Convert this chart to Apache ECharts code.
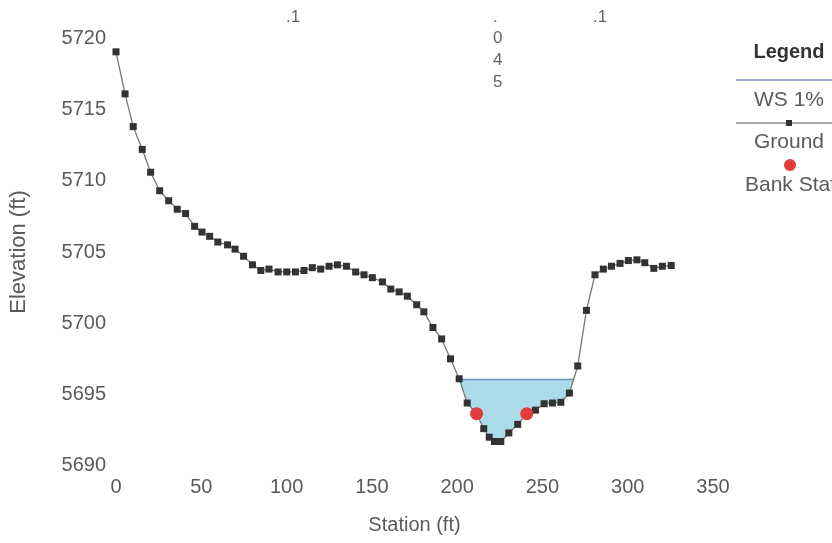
<!DOCTYPE html>
<html>
<head>
<meta charset="utf-8">
<script src="https://cdn.jsdelivr.net/npm/echarts@6/dist/echarts.min.js"></script>
<style>
html,body{margin:0;padding:0;background:#fff;}
#c{width:832px;height:543px;}
</style>
</head>
<body>
<div id="c"></div>
<script>
// ---- data ----
const groundStation = [0, 5.3, 10.1, 15.4, 20.3, 25.6, 30.9, 35.9, 40.8, 46.1, 50.4, 54.9, 59.7, 65.4, 69.8, 74.8, 80.0, 84.9, 89.7, 95.0, 100.1, 105.2, 110.2, 115.1, 120.0, 124.9, 129.8, 135.1, 140.5, 145.4, 150.3, 156.2, 161.1, 166.0, 170.8, 176.3, 180.5, 185.8, 190.9, 196.1, 201.2, 205.9, 211.4, 215.6, 218.8, 221.9, 225.6, 230.3, 235.5, 240.8, 245.9, 251.0, 255.9, 260.8, 265.8, 270.7, 275.8, 280.8, 285.7, 290.5, 295.5, 300.4, 305.4, 310.0, 315.3, 320.3, 325.5];
const groundElev = [5719.05, 5716.1, 5713.8, 5712.2, 5710.6, 5709.3, 5708.6, 5708.0, 5707.7, 5706.8, 5706.4, 5706.1, 5705.7, 5705.5, 5705.2, 5704.7, 5704.1, 5703.7, 5703.8, 5703.6, 5703.6, 5703.6, 5703.7, 5703.9, 5703.8, 5704.0, 5704.1, 5704.0, 5703.6, 5703.4, 5703.2, 5702.9, 5702.4, 5702.2, 5701.9, 5701.3, 5700.8, 5699.7, 5698.9, 5697.5, 5696.1, 5694.4, 5693.65, 5692.6, 5692.0, 5691.7, 5691.7, 5692.3, 5692.9, 5693.65, 5693.9, 5694.35, 5694.4, 5694.45, 5695.1, 5697.0, 5700.9, 5703.4, 5703.8, 5704.0, 5704.2, 5704.4, 5704.45, 5704.25, 5703.85, 5704.0, 5704.05];
const bankStation = [211.4, 240.8];
const bankElev = [5693.65, 5693.65];
const wsElev = 5696.05;
const wsName = 'WS 1%';
const xTicks = [0, 50, 100, 150, 200, 250, 300, 350];
const yTicks = [5690, 5695, 5700, 5705, 5710, 5715, 5720];
const nLabels = ['.1', '.045', '.1'];

// ---- derived ----
const ground = groundStation.map((s, i) => [s, groundElev[i]]);
// water polygon: portion of ground below WS in the channel, bounded by crossings
const minIdx = groundElev.indexOf(Math.min(...groundElev));
let li = minIdx; while (li > 0 && groundElev[li - 1] < wsElev) li--;
let ri = minIdx; while (ri < groundElev.length - 1 && groundElev[ri + 1] < wsElev) ri++;
function cross(a, b) {
  const t = (wsElev - groundElev[a]) / (groundElev[b] - groundElev[a]);
  return groundStation[a] + t * (groundStation[b] - groundStation[a]);
}
const xl = cross(li - 1, li), xr = cross(ri, ri + 1);
const water = [[xl, wsElev]].concat(ground.slice(li, ri + 1)).concat([[xr, wsElev]]);
const wsLine = [[xl, wsElev], [xr, wsElev]];

const txt = '#5a5a5a';
const font = 'Liberation Sans, Arial, sans-serif';

const chart = echarts.init(document.getElementById('c'), null, {renderer: 'canvas'});
chart.setOption({
  animation: false,
  backgroundColor: '#fff',
  grid: {left: 115, right: 119, top: 38.3, bottom: 77.3, containLabel: false},
  xAxis: {
    type: 'value', min: xTicks[0], max: xTicks[xTicks.length - 1], interval: 50,
    name: 'Station (ft)', nameLocation: 'middle', nameGap: 50,
    nameTextStyle: {color: txt, fontSize: 20, fontFamily: font},
    axisLine: {show: false}, axisTick: {show: false}, splitLine: {show: false},
    axisLabel: {color: txt, fontSize: 20, fontFamily: font, margin: 12, formatter: v => String(v)}
  },
  yAxis: {
    type: 'value', min: yTicks[0], max: yTicks[yTicks.length - 1], interval: 5,
    name: 'Elevation (ft)', nameLocation: 'middle', nameGap: 86,
    nameTextStyle: {color: txt, fontSize: 22, fontFamily: font},
    axisLine: {show: false}, axisTick: {show: false}, splitLine: {show: false},
    axisLabel: {color: txt, fontSize: 20, fontFamily: font, margin: 10, formatter: v => String(v)}
  },
  series: [
    {
      name: 'water', type: 'line', data: water, showSymbol: false, silent: true,
      lineStyle: {width: 0, opacity: 0},
      areaStyle: {origin: wsElev, color: '#acdbea', opacity: 1}, z: 1
    },
    {
      name: wsName, type: 'line', data: wsLine, showSymbol: false,
      lineStyle: {color: '#6f92bd', width: 1.5}, z: 2
    },
    {
      name: 'Ground', type: 'line', data: ground, symbol: 'rect', symbolSize: 7,
      lineStyle: {color: '#777', width: 1.3},
      itemStyle: {color: '#333'}, z: 3
    },
    {
      name: 'Bank Sta', type: 'scatter', data: bankStation.map((s, i) => [s, bankElev[i]]),
      symbol: 'circle', symbolSize: 13, itemStyle: {color: '#e33b3b', opacity: 1}, z: 4
    }
  ],
  graphic: [
    // Manning's n labels along the top
    {type: 'text', left: 286, top: 9, style: {text: nLabels[0], fill: '#666', font: '17px ' + font}},
    {type: 'text', left: 593, top: 9, style: {text: nLabels[2], fill: '#666', font: '17px ' + font}},
    {type: 'text', left: 493, top: 6, style: {text: nLabels[1].split('').join('\n'), fill: '#666', font: '17px ' + font, lineHeight: 21.7, align: 'center', x: 5}},
    // legend
    {type: 'text', x: 789, y: 52, style: {text: 'Legend', fill: '#333', font: 'bold 20px ' + font, align: 'center', verticalAlign: 'middle'}},
    {type: 'line', shape: {x1: 736, y1: 80, x2: 832, y2: 80}, style: {stroke: '#7a88b8', lineWidth: 1.5}},
    {type: 'text', x: 789, y: 100, style: {text: wsName, fill: txt, font: '21px ' + font, align: 'center', verticalAlign: 'middle'}},
    {type: 'line', shape: {x1: 736, y1: 123, x2: 832, y2: 123}, style: {stroke: '#555', lineWidth: 1.2}},
    {type: 'rect', shape: {x: 786, y: 120, width: 6, height: 6}, style: {fill: '#333'}},
    {type: 'text', x: 789, y: 142, style: {text: 'Ground', fill: txt, font: '21px ' + font, align: 'center', verticalAlign: 'middle'}},
    {type: 'circle', shape: {cx: 790, cy: 165, r: 6}, style: {fill: '#e33b3b'}},
    {type: 'text', x: 745, y: 185, style: {text: 'Bank Station', fill: txt, font: '21px ' + font, align: 'left', verticalAlign: 'middle'}}
  ]
});
</script>
</body>
</html>
